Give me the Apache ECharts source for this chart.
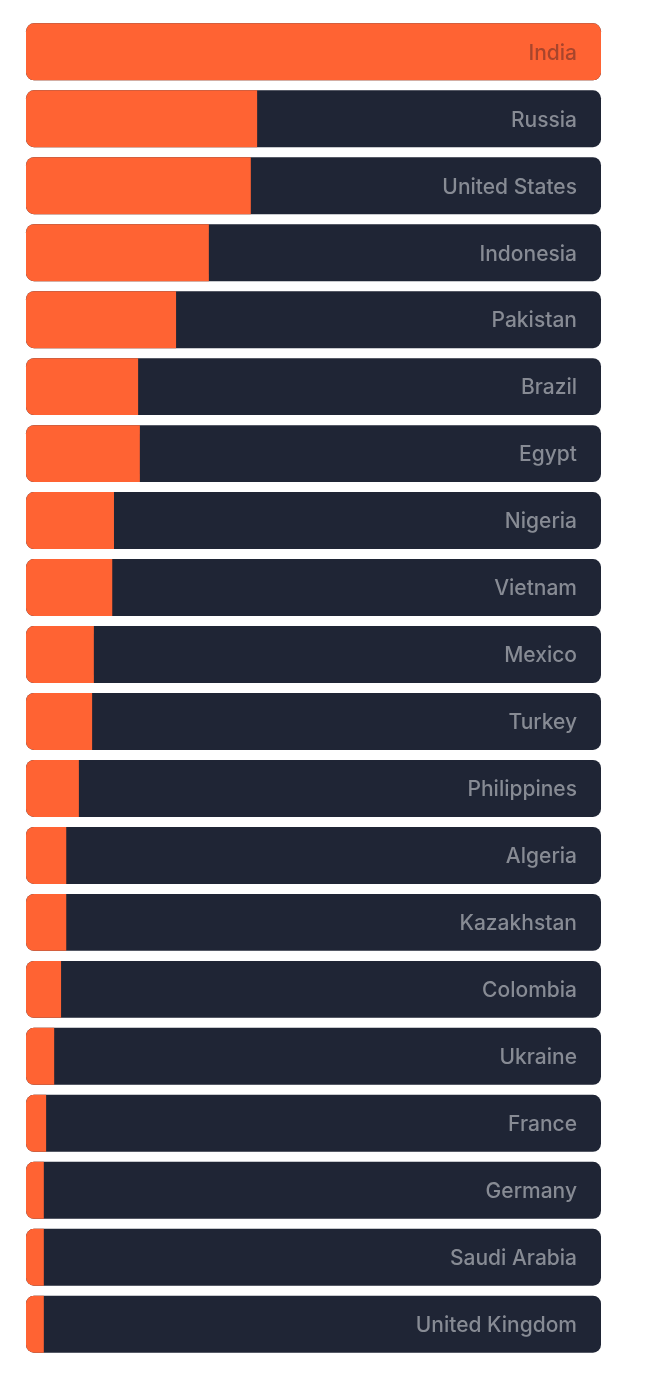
<!DOCTYPE html>
<html style="height: 100%">
<head>
<meta charset="utf-8">
<title>Countries</title>
<style>
  html, body { margin: 0; height: 100%; background: #ffffff; }
  #container { width: 645px; height: 1385px; }
</style>
</head>
<body>
<div id="container"></div>
<script src="https://cdn.jsdelivr.net/npm/echarts@6/dist/echarts.min.js"></script>
<script>
// countries, top to bottom
var countries = ['India', 'Russia', 'United States', 'Indonesia', 'Pakistan', 'Brazil', 'Egypt',
  'Nigeria', 'Vietnam', 'Mexico', 'Turkey', 'Philippines', 'Algeria', 'Kazakhstan', 'Colombia',
  'Ukraine', 'France', 'Germany', 'Saudi Arabia', 'United Kingdom'];
// share relative to the leader (India = 100)
var shares = [100, 40.2, 39.1, 31.8, 26.1, 19.5, 19.8, 15.3, 15.0, 11.8, 11.5, 9.2, 7.0, 7.0,
  6.1, 4.9, 3.5, 3.1, 3.1, 3.1];

var maxShare = 100;
var orange = '#ff6333';
var dark = '#1f2535';

var full = countries.map(function () { return maxShare; });

var orangeData = shares.map(function (v) {
  return {
    value: v,
    itemStyle: { borderRadius: v >= maxShare ? [8, 8, 8, 8] : [8, 0, 0, 8] }
  };
});

var labelData = countries.map(function (c, i) {
  return {
    value: maxShare,
    label: { color: shares[i] >= maxShare ? '#a8452c' : '#878b94' }
  };
});

var chart = echarts.init(document.getElementById('container'));
chart.setOption({
  animation: false,
  grid: { left: 26, right: 44, top: 18.3, bottom: 27.3 },
  xAxis: { type: 'value', min: 0, max: maxShare, show: false },
  yAxis: {
    type: 'category', data: countries, inverse: true, show: false
  },
  series: [
    {
      type: 'bar', data: full, barCategoryGap: '15%', z: 1, silent: true,
      itemStyle: { color: dark, borderRadius: 8 }
    },
    {
      type: 'bar', data: orangeData, barGap: '-100%', barCategoryGap: '15%', z: 2, silent: true,
      itemStyle: { color: orange }
    },
    {
      type: 'bar', data: labelData, barGap: '-100%', barCategoryGap: '15%', z: 3, silent: true,
      itemStyle: { color: 'rgba(0,0,0,0)' },
      label: {
        show: true, position: 'insideRight', distance: 24, offset: [0, 1.5],
        formatter: function (p) { return p.name; },
        fontFamily: 'Inter', fontWeight: 500, fontSize: 21
      }
    }
  ]
});
</script>
</body>
</html>
